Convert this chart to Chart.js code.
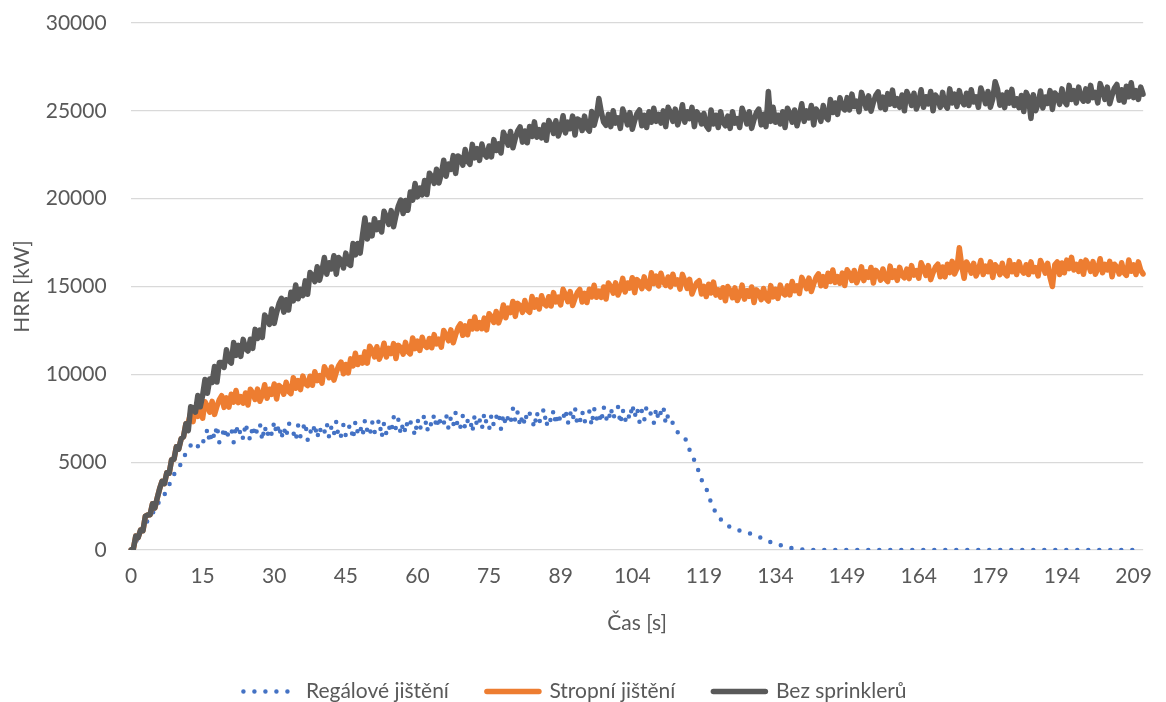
<!DOCTYPE html>
<html>
<head>
<meta charset="utf-8">
<script src="https://cdn.jsdelivr.net/npm/chart.js@4.4.0/dist/chart.umd.min.js"></script>
<style>
  html, body { margin: 0; padding: 0; background: #fff; }
  canvas { display: block; }
</style>
</head>
<body>
<canvas id="chart" width="1166" height="702"></canvas>
<script>
// time axis labels, one every LABEL_STEP samples
const tickLabels = ['0', '15', '30', '45', '60', '75', '89', '104', '119', '134', '149', '164', '179', '194', '209'];
const LABEL_STEP = 30;

const seriesNames = ['Regálové jištění', 'Stropní jištění', 'Bez sprinklerů'];

// HRR [kW] samples
const regalove = [
  0, 180, 420, 750, 1050, 1200, 1400, 1700, 1950, 2100,
  2250, 2550, 2800, 2950, 3150, 3450, 3700, 4050, 4300, 4450,
  4650, 4950, 5250, 5500, 5700, 5950, 6150, 6050, 5900, 6250,
  6130, 6335, 6900, 6115, 6770, 6345, 7090, 6125, 6330, 6985,
  6315, 6765, 6945, 6135, 7125, 6495, 6855, 6315, 7215, 6585,
  6250, 7075, 6460, 6925, 7210, 6235, 7060, 6445, 6910, 6565,
  7320, 6600, 7140, 6330, 6960, 6420, 7230, 7050, 6690, 6240,
  7085, 6455, 6905, 7265, 6275, 6815, 6545, 7175, 6365, 6995,
  6505, 6685, 7225, 6415, 7045, 6595, 7315, 6325, 6505, 7135,
  6490, 6940, 7120, 6310, 7300, 6670, 7030, 6490, 7390, 6760,
  6500, 7310, 6680, 7130, 7400, 6410, 7220, 6590, 7040, 6680,
  7590, 6870, 7410, 6600, 7230, 6690, 7500, 7320, 6960, 6510,
  7460, 6855, 7330, 7715, 6750, 7315, 7070, 7725, 6940, 7595,
  7010, 7190, 7730, 6920, 7550, 7100, 7820, 6830, 7010, 7640,
  6890, 7340, 7520, 6710, 7700, 7070, 7430, 6890, 7790, 7160,
  6850, 7685, 7080, 7555, 7850, 6885, 7720, 7115, 7590, 7255,
  8040, 7320, 7860, 7050, 7680, 7140, 7950, 7770, 7410, 6960,
  7860, 7230, 7680, 8040, 7050, 7590, 7320, 7950, 7140, 7770,
  7280, 7460, 8000, 7190, 7820, 7370, 8090, 7100, 7280, 7910,
  7260, 7710, 7890, 7080, 8070, 7440, 7800, 7260, 8160, 7530,
  7270, 8080, 7450, 7900, 8170, 7180, 7990, 7360, 7810, 7450,
  8290, 7570, 8110, 7300, 7930, 7390, 8200, 8020, 7660, 7210,
  8060, 7420, 7860, 8190, 7180, 7690, 7600, 7200, 6900, 6700,
  6600, 6550, 6400, 6100, 5700, 5400, 5100, 4800, 4400, 4000,
  3750, 3500, 3100, 2700, 2400, 2100, 1900, 1750, 1600, 1480,
  1380, 1300, 1230, 1180, 1140, 1100, 1060, 1020, 990, 950,
  900, 850, 790, 740, 690, 630, 570, 500, 440, 390,
  340, 300, 270, 240, 200, 160, 120, 100, 80, 70,
  50, 40, 20, 10, 0, 0, 0, 0, 0, 0,
  0, 0, 0, 0, 0, 0, 0, 0, 0, 0,
  0, 0, 0, 0, 0, 0, 0, 0, 0, 0,
  0, 0, 0, 0, 0, 0, 0, 0, 0, 0,
  0, 0, 0, 0, 0, 0, 0, 0, 0, 0,
  0, 0, 0, 0, 0, 0, 0, 0, 0, 0,
  0, 0, 0, 0, 0, 0, 0, 0, 0, 0,
  0, 0, 0, 0, 0, 0, 0, 0, 0, 0,
  0, 0, 0, 0, 0, 0, 0, 0, 0, 0,
  0, 0, 0, 0, 0, 0, 0, 0, 0, 0,
  0, 0, 0, 0, 0, 0, 0, 0, 0, 0,
  0, 0, 0, 0, 0, 0, 0, 0, 0, 0,
  0, 0, 0, 0, 0, 0, 0, 0, 0, 0,
  0, 0, 0, 0, 0, 0, 0, 0, 0, 0,
  0, 0, 0, 0, 0
];

const stropni = [
  0, 70, 790, 710, 1130, 1100, 1920, 1990, 2010, 2630,
  2400, 2970, 3490, 3910, 3780, 4400, 4370, 5140, 5160, 5880,
  5750, 6330, 6450, 7180, 7260, 7810, 7310, 8100, 7610, 7910,
  7500, 8440, 8180, 7840, 8460, 7720, 8180, 8560, 8780, 8120,
  8660, 8130, 8870, 8420, 9080, 8390, 8730, 8360, 8940, 8250,
  9150, 8940, 8570, 9160, 8470, 8820, 9410, 8640, 9150, 8860,
  9450, 8600, 9360, 9240, 8870, 9550, 9020, 8900, 9810, 9210,
  9640, 9130, 9900, 9470, 9360, 9890, 9380, 10150, 9640, 9930,
  9500, 10430, 10160, 9810, 10420, 9670, 10120, 10490, 10700, 10030,
  10560, 10080, 10880, 10480, 11200, 10560, 10960, 10640, 11280, 10640,
  11600, 11380, 10990, 11570, 10860, 11200, 11770, 10990, 11480, 11180,
  11750, 10900, 11650, 11520, 11150, 11820, 11290, 11160, 12070, 11460,
  11890, 11360, 12110, 11660, 11530, 12040, 11510, 12260, 11730, 12000,
  11550, 12500, 12240, 11910, 12530, 11800, 12260, 12650, 12870, 12220,
  12760, 12250, 13010, 12580, 13260, 12590, 12950, 12600, 13200, 12530,
  13450, 13280, 12950, 13580, 12930, 13320, 13950, 13220, 13770, 13520,
  14150, 13300, 14040, 13910, 13530, 14200, 13660, 13530, 14430, 13820,
  14240, 13720, 14470, 14030, 13900, 14420, 13890, 14650, 14120, 14400,
  13950, 14840, 14530, 14140, 14710, 13920, 14330, 14660, 14830, 14120,
  14610, 14090, 14840, 14400, 15070, 14390, 14740, 14380, 14970, 14290,
  15200, 14990, 14620, 15210, 14520, 14870, 15460, 14690, 15200, 14910,
  15500, 14650, 15390, 15260, 14880, 15550, 15010, 14880, 15780, 15170,
  15590, 15030, 15750, 15270, 15060, 15540, 14980, 15700, 15140, 15380,
  14850, 15690, 15330, 14890, 15410, 14570, 14930, 15210, 15330, 14570,
  15010, 14430, 15130, 14630, 15250, 14510, 14810, 14390, 14930, 14190,
  15000, 14760, 14360, 14920, 14200, 14520, 15080, 14280, 14760, 14440,
  14970, 14090, 14810, 14650, 14250, 14890, 14330, 14170, 15050, 14410,
  14840, 14320, 15080, 14640, 14520, 15040, 14520, 15280, 14760, 15040,
  14600, 15520, 15240, 14880, 15480, 14720, 15160, 15520, 15720, 15040,
  15560, 15015, 15750, 15285, 15940, 15235, 15570, 15185, 15760, 15055,
  15950, 15725, 15340, 15915, 15210, 15545, 16120, 15335, 15830, 15525,
  16080, 15200, 15920, 15760, 15360, 16000, 15440, 15280, 16160, 15520,
  15890, 15350, 16090, 15630, 15490, 15990, 15450, 16190, 15650, 15910,
  15470, 16350, 16030, 15630, 16190, 15390, 15790, 16110, 16270, 15550,
  16110, 15550, 16270, 15790, 16430, 15710, 16030, 17200, 16190, 15470,
  16400, 16160, 15760, 16320, 15600, 15920, 16480, 15680, 16160, 15840,
  16400, 15520, 16240, 16080, 15680, 16320, 15760, 15600, 16480, 15840,
  16240, 15680, 16400, 15920, 15760, 16240, 15680, 16400, 15840, 16080,
  15600, 16480, 16160, 15760, 16320, 15520, 15000, 16240, 16400, 15680,
  16340, 15780, 16500, 16020, 16660, 15940, 16260, 15860, 16420, 15700,
  16500, 16260, 15860, 16420, 15700, 16020, 16580, 15780, 16260, 15940,
  16430, 15550, 16270, 16110, 15710, 16350, 15790, 15630, 16510, 15870,
  16240, 15680, 16400, 15920, 15720
];

const bezSprinkleru = [
  0, 70, 790, 710, 1130, 1100, 1920, 1990, 2010, 2630,
  2400, 2970, 3490, 3910, 3780, 4400, 4370, 5140, 5160, 5880,
  5750, 6330, 6450, 7180, 6800, 8150, 8100, 7850, 8800, 8150,
  8800, 9710, 8920, 9730, 9540, 10450, 9560, 10670, 10680, 10390,
  11400, 10770, 10640, 11810, 11080, 11650, 11020, 11990, 11460, 11330,
  12000, 11480, 12560, 12040, 12520, 12100, 13380, 13160, 12840, 13720,
  12900, 13510, 14020, 14330, 13540, 14250, 13660, 14670, 14180, 15090,
  14300, 14840, 14480, 15320, 14560, 15800, 15640, 15280, 16120, 15360,
  15900, 16650, 15700, 16350, 16000, 16750, 15700, 16650, 16500, 16050,
  16900, 16300, 16200, 17450, 16800, 17450, 16900, 17950, 18900, 17700,
  18500, 17880, 18860, 18240, 18620, 18100, 19280, 18960, 18540, 19320,
  18400, 19040, 19580, 19920, 19160, 19900, 19340, 20380, 19920, 20860,
  20100, 20610, 20220, 21030, 20240, 21450, 21260, 20870, 21680, 20890,
  21400, 22190, 21280, 21970, 21660, 22450, 21440, 22430, 22320, 21910,
  22800, 22130, 21960, 23090, 22320, 22850, 22180, 23110, 22540, 22370,
  23000, 22380, 23360, 22740, 23120, 22600, 23780, 23460, 23040, 23820,
  22900, 23430, 23860, 24090, 23220, 23850, 23180, 24110, 23540, 24370,
  23500, 23930, 23460, 24190, 23320, 24450, 24180, 23710, 24440, 23570,
  24000, 24720, 23740, 24360, 23980, 24700, 23620, 24540, 24460, 23880,
  24700, 24020, 23840, 24960, 24180, 24700, 25700, 24940, 24360, 24180,
  24800, 24100, 25000, 24300, 24600, 24000, 25100, 24700, 24200, 24900,
  23950, 24450, 24850, 25050, 24150, 24750, 24050, 24950, 24350, 25150,
  24400, 24800, 24300, 25000, 24100, 25200, 24900, 24400, 25100, 24200,
  24650, 25350, 24350, 24950, 24550, 25200, 24100, 24950, 24750, 24250,
  24850, 24150, 23950, 25050, 24250, 24750, 24050, 24950, 24350, 24150,
  24700, 24000, 24950, 24300, 24550, 24050, 25150, 24750, 24250, 24950,
  24000, 24500, 24900, 25100, 24200, 24800, 24100, 26100, 24400, 25200,
  24350, 24750, 24250, 24950, 24050, 25150, 24850, 24350, 25050, 24150,
  24700, 25400, 24400, 25000, 24600, 25300, 24200, 25100, 24900, 24400,
  25300, 24650, 24500, 25650, 24900, 25450, 24800, 25750, 25200, 25050,
  25750, 25050, 25950, 25250, 25550, 24950, 26050, 25650, 25150, 25850,
  24980, 25480, 25880, 26080, 25180, 25780, 25080, 25980, 25380, 26180,
  25300, 25700, 25200, 25900, 25000, 26100, 25800, 25300, 26000, 25100,
  25500, 26200, 25200, 25800, 25400, 26100, 25000, 25900, 25700, 25200,
  26050, 25350, 25150, 26250, 25450, 25950, 25250, 26150, 25550, 25350,
  26000, 25300, 26200, 25500, 25800, 25200, 26300, 25900, 25400, 26100,
  25200, 25680, 26660, 26240, 25320, 25900, 25180, 26060, 25440, 26220,
  25300, 25690, 25180, 25870, 24960, 26050, 25740, 24570, 25920, 25010,
  25400, 26130, 25160, 25790, 25420, 26150, 25080, 26010, 25840, 25370,
  26250, 25550, 25350, 26450, 25650, 26150, 25450, 26350, 25750, 25550,
  26250, 25550, 26450, 25750, 26050, 25450, 26550, 26150, 25650, 26350,
  25400, 25900, 26300, 26500, 25600, 26200, 25500, 26400, 25800, 26600,
  25750, 26150, 25650, 26350, 25950
];

const TEXT = '#595959';
Chart.defaults.font.family = 'Lato, "Open Sans", sans-serif';
Chart.defaults.font.size = 21;
Chart.defaults.color = TEXT;

const labels = bezSprinkleru.map((_, i) => i);

new Chart(document.getElementById('chart').getContext('2d'), {
  type: 'line',
  data: {
    labels,
    datasets: [
      {
        label: seriesNames[0],
        data: regalove,
        borderColor: '#4472C4',
        borderWidth: 4.5,
        borderDash: [0, 11],
        borderCapStyle: 'round',
        borderJoinStyle: 'round',
        order: 3
      },
      {
        label: seriesNames[1],
        data: stropni,
        borderColor: '#ED7D31',
        borderWidth: 5.5,
        borderCapStyle: 'round',
        borderJoinStyle: 'round',
        order: 2
      },
      {
        label: seriesNames[2],
        data: bezSprinkleru,
        borderColor: '#595959',
        borderWidth: 5.5,
        borderCapStyle: 'round',
        borderJoinStyle: 'round',
        order: 1
      }
    ]
  },
  options: {
    responsive: false,
    animation: false,
    devicePixelRatio: 1,
    elements: { point: { radius: 0, hoverRadius: 0 }, line: { tension: 0 } },
    layout: { padding: { top: 0, right: 16, bottom: -10, left: 0 } },
    plugins: {
      tooltip: { enabled: false },
      legend: {
        position: 'bottom',
        labels: {
          usePointStyle: true,
          pointStyleWidth: 52,
          padding: 38,
          color: TEXT,
          sort: (a, b) => a.datasetIndex - b.datasetIndex,
          generateLabels(chart) {
            const items = Chart.defaults.plugins.legend.labels.generateLabels(chart);
            items.forEach(item => {
              const ds = chart.data.datasets[item.datasetIndex];
              item.pointStyle = 'line';
              item.strokeStyle = ds.borderColor;
              item.lineWidth = ds.borderWidth;
              item.lineDash = ds.borderDash || [];
              item.lineCap = ds.borderCapStyle;
            });
            return items;
          }
        }
      }
    },
    scales: {
      x: {
        type: 'category',
        grid: { display: false, drawTicks: false },
        border: { display: false },
        ticks: {
          autoSkip: false,
          maxRotation: 0,
          padding: 14,
          color: TEXT,
          callback: (v, i) => i % LABEL_STEP === 0 ? tickLabels[i / LABEL_STEP] : null
        },
        title: { display: true, text: 'Čas [s]', color: TEXT, padding: { top: 19, bottom: 7 } },
        afterFit: scale => { scale.height = 93; }
      },
      y: {
        min: 0,
        max: 30000,
        ticks: { stepSize: 5000, padding: 10.4, color: TEXT, callback: v => String(v) },
        grid: { color: '#D9D9D9', lineWidth: 1.3, drawTicks: true, tickLength: 14, tickColor: 'rgba(0,0,0,0)' },
        border: { display: false },
        title: { display: true, text: 'HRR [kW]', color: TEXT, padding: { top: 10, bottom: 0 } },
        afterFit: scale => { scale.width = 131; }
      }
    }
  }
});
</script>
</body>
</html>
